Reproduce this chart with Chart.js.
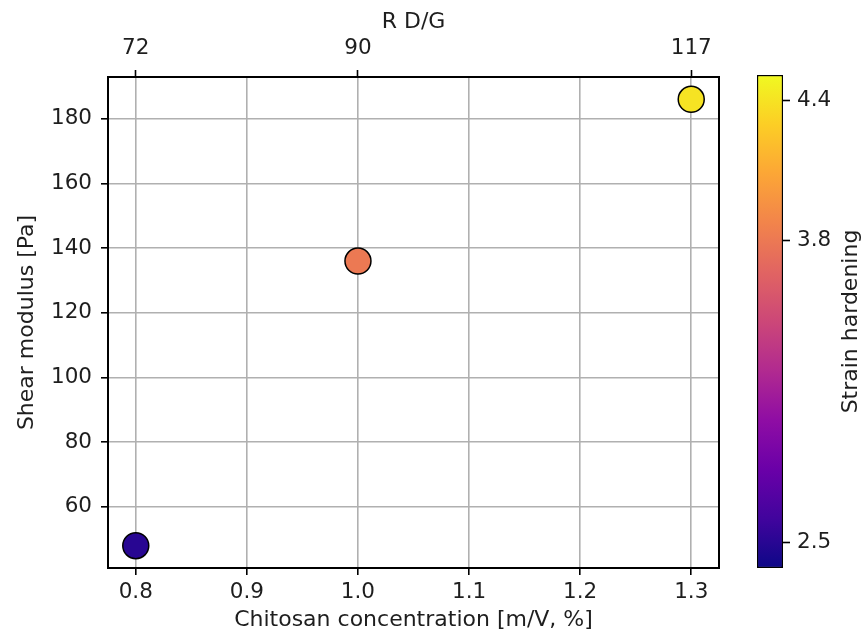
<!DOCTYPE html>
<html>
<head>
<meta charset="utf-8">
<script src="https://cdn.jsdelivr.net/npm/chart.js@4.4.1/dist/chart.umd.min.js"></script>
<style>
body{margin:0;background:#fff}
#wrap{position:relative;width:868px;height:637px}
#main{position:absolute;left:0;top:0}
#cbar{position:absolute;left:740px;top:0}
</style>
</head>
<body>
<div id="wrap">
<canvas id="main" width="868" height="637"></canvas>
<canvas id="cbar" width="128" height="637"></canvas>
</div>
<script>
// data
let concentration = [0.8, 1.0, 1.3];
let shearModulus = [48, 136, 186];
let strainHardening = [2.5, 3.8, 4.4];
let rdg = [72, 90, 117];

let xTicks = [0.8, 0.9, 1.0, 1.1, 1.2, 1.3];
let yTicks = [60, 80, 100, 120, 140, 160, 180];
let cbarMin = 2.39, cbarMax = 4.51;

Chart.defaults.font.family = "DejaVu Sans";
Chart.defaults.color = "#1e1e1e";

// plasma colormap
let plasma = ["#0d0887","#41049d","#6a00a8","#8f0da4","#b12a90","#cc4778",
              "#e16462","#f2844b","#fca636","#fcce25","#f0f921"];

function hex(h){ return [1,3,5].map(i => parseInt(h.substr(i,2),16)); }
function plasmaAt(t){
    t = Math.max(0, Math.min(1, t));
    let p = t * (plasma.length - 1);
    let i = Math.min(Math.floor(p), plasma.length - 2);
    let f = p - i;
    let a = hex(plasma[i]), b = hex(plasma[i+1]);
    let c = a.map((v,k) => Math.round(v + (b[k]-v)*f));
    return "rgb(" + c.join(",") + ")";
}

let pointColors = strainHardening.map(v => plasmaAt((v - cbarMin)/(cbarMax - cbarMin)));

let frame = {
    id: "frame",
    beforeDatasetsDraw(chart){
        let a = chart.chartArea, c = chart.ctx;
        c.save();
        c.strokeStyle = "#000";
        c.lineWidth = 2;
        c.strokeRect(a.left, a.top, a.right - a.left, a.bottom - a.top);
        c.restore();
    }
};

let tickFont = {size: 21.5};
let titleFont = {size: 22};

new Chart("main", {
    type: "scatter",
    data: {
        datasets: [{
            data: concentration.map((x, i) => ({x: x, y: shearModulus[i]})),
            pointRadius: 13,
            pointBackgroundColor: pointColors,
            pointBorderColor: "#000",
            pointBorderWidth: 1.5,
            clip: false
        }]
    },
    options: {
        responsive: false,
        animation: false,
        events: [],
        layout: {padding: {left: 0, top: 0, bottom: 0, right: 149}},
        plugins: {legend: {display: false}, tooltip: {enabled: false}},
        scales: {
            x: {
                type: "linear", position: "bottom",
                min: 0.775, max: 1.325,
                afterBuildTicks: s => { s.ticks = xTicks.map(v => ({value: v})); },
                afterFit: s => { s.height = 69; },
                ticks: {font: tickFont, padding: 5, maxRotation: 0, autoSkip: false,
                        callback: v => v.toFixed(1)},
                grid: {color: "#b0b0b0", lineWidth: 1.6, tickColor: "#000", tickLength: 7, tickWidth: 1.6},
                border: {display: false},
                title: {display: true, text: "Chitosan concentration [m/V, %]", font: titleFont,
                        padding: {top: 0, bottom: 4}}
            },
            x2: {
                type: "linear", position: "top",
                min: 0.775, max: 1.325,
                afterBuildTicks: s => { s.ticks = concentration.map(v => ({value: v})); },
                afterFit: s => { s.height = 77; },
                ticks: {font: tickFont, padding: 8.5, maxRotation: 0, autoSkip: false,
                        callback: v => rdg[concentration.findIndex(c => Math.abs(c - v) < 1e-6)]},
                grid: {drawOnChartArea: false, tickColor: "#000", tickLength: 7, tickWidth: 1.6},
                border: {display: false},
                title: {display: true, text: "R D/G", font: titleFont, padding: {top: 9, bottom: 0}}
            },
            y: {
                type: "linear", position: "left",
                min: 41.1, max: 192.9,
                afterBuildTicks: s => { s.ticks = yTicks.map(v => ({value: v})); },
                afterFit: s => { s.width = 108; },
                ticks: {font: tickFont, padding: 9},
                grid: {color: "#b0b0b0", lineWidth: 1.6, tickColor: "#000", tickLength: 7, tickWidth: 1.6},
                border: {display: false},
                title: {display: true, text: "Shear modulus [Pa]", font: titleFont, padding: {top: 14, bottom: 0}}
            }
        }
    },
    plugins: [frame]
});

// colorbar
let cbarTitle = {
    id: "cbarTitle",
    afterDraw(chart){
        let c = chart.ctx, a = chart.chartArea;
        c.save();
        c.translate(111, (a.top + a.bottom)/2);
        c.rotate(-Math.PI/2);
        c.font = "22px 'DejaVu Sans'";
        c.fillStyle = "#1e1e1e";
        c.textAlign = "center";
        c.textBaseline = "middle";
        c.fillText("Strain hardening", 0, 0);
        c.restore();
    }
};

new Chart("cbar", {
    type: "bar",
    data: {
        labels: [""],
        datasets: [{
            data: [[cbarMin, cbarMax]],
            backgroundColor: ctx => {
                let a = ctx.chart.chartArea;
                if (!a) return null;
                let g = ctx.chart.ctx.createLinearGradient(0, a.bottom, 0, a.top);
                plasma.forEach((col, i) => g.addColorStop(i/(plasma.length - 1), col));
                return g;
            },
            borderColor: "#000",
            borderWidth: 1.5,
            borderSkipped: false,
            barPercentage: 1,
            categoryPercentage: 1
        }]
    },
    options: {
        responsive: false,
        animation: false,
        events: [],
        layout: {padding: {left: 17, top: 75, bottom: 69, right: 0}},
        plugins: {legend: {display: false}, tooltip: {enabled: false}},
        scales: {
            x: {display: false},
            y: {
                position: "right",
                min: cbarMin, max: cbarMax,
                afterBuildTicks: s => { s.ticks = strainHardening.map(v => ({value: v})); },
                afterFit: s => { s.width = 85; },
                ticks: {font: tickFont, padding: 7, callback: v => v.toFixed(1)},
                grid: {drawOnChartArea: false, tickColor: "#000", tickLength: 7, tickWidth: 1.6},
                border: {display: false}
            }
        }
    },
    plugins: [cbarTitle]
});
</script>
</body>
</html>
